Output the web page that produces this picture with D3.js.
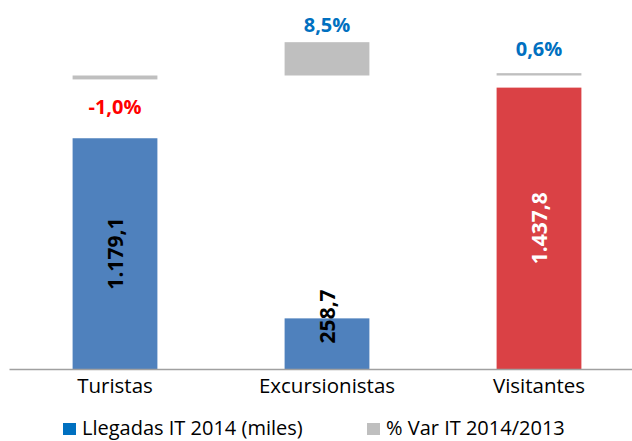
<!DOCTYPE html>
<html>
<head>
<meta charset="utf-8">
<script src="https://cdn.jsdelivr.net/npm/d3@7"></script>
<style>
  body { margin: 0; background: #fff; }
  text { font-family: "Open Sans", Lato, sans-serif; }
</style>
</head>
<body>
<div id="chart-area"></div>
<script>
const categories = ['Turistas', 'Excursionistas', 'Visitantes']
const llegadas = [1179.1, 258.7, 1437.8]
const varPct = [-1.0, 8.5, 0.6]
const legendLabels = ['Llegadas IT 2014 (miles)', '% Var IT 2014/2013']

const WIDTH = 632
const HEIGHT = 441
const BASE = 369

const fmtNum = (v) => {
    const s = v.toFixed(1).split('.')
    return s[0].replace(/\B(?=(\d{3})+(?!\d))/g, '.') + ',' + s[1]
}
const fmtPct = (v) => v.toFixed(1).replace('.', ',') + '%'

const svg = d3.select('#chart-area').append('svg')
        .attr('width', WIDTH)
        .attr('height', HEIGHT)

const x = d3.scaleBand()
          .domain(categories)
          .range([9, 645])
          .paddingInner(0.6)
          .paddingOuter(0.3)

const y = d3.scaleLinear()
          .domain([0, 1600])
          .range([BASE, BASE - 1600 * 0.1957])

const y2 = d3.scaleLinear()
          .domain([-2, 10])
          .range([75.5 + 2 * 3.92, 75.5 - 10 * 3.92])

const barColors = ['#4f81bd', '#4f81bd', '#da4145']
const barTextColors = ['#000', '#000', '#fff']

// secondary series (% var) floating bars
svg.selectAll('rect.pct')
    .data(varPct)
    .enter().append('rect')
    .attr('class', 'pct')
    .attr('x', (d, i) => x(categories[i]))
    .attr('width', x.bandwidth())
    .attr('y', d => Math.min(y2(d), y2(0)))
    .attr('height', d => Math.abs(y2(d) - y2(0)))
    .attr('fill', '#bfbfbf')

// main bars
svg.selectAll('rect.bar')
    .data(llegadas)
    .enter().append('rect')
    .attr('class', 'bar')
    .attr('x', (d, i) => x(categories[i]))
    .attr('width', x.bandwidth())
    .attr('y', d => y(d))
    .attr('height', d => BASE - y(d))
    .attr('fill', (d, i) => barColors[i])

// axis
const xAxisCall = d3.axisBottom(x).tickSize(0).tickPadding(24)
const xAxis = svg.append('g')
    .attr('transform', `translate(0, ${BASE})`)
    .call(xAxisCall)
xAxis.select('.domain').attr('stroke', '#a0a0a0').attr('stroke-width', 1.5)
xAxis.selectAll('text')
    .attr('font-size', 20.5)
    .attr('dy', 0)
    .attr('fill', '#000')
    .style('font-family', '"Open Sans", sans-serif')

// value labels inside bars (rotated)
svg.selectAll('text.val')
    .data(llegadas)
    .enter().append('text')
    .attr('class', 'val')
    .attr('transform', (d, i) => {
        const cx = x(categories[i]) + x.bandwidth() / 2
        const h = BASE - y(d)
        const cy = h > 70 ? y(d) + h / 2 : y(d) - 2
        return `translate(${cx}, ${cy}) rotate(-90)`
    })
    .attr('text-anchor', 'middle')
    .attr('dy', '0.36em')
    .attr('font-size', 21)
    .attr('font-weight', 'bold')
    .attr('fill', (d, i) => barTextColors[i])
    .text(d => fmtNum(d))

// percentage labels
const pctLabelDy = [20, 10, 17]
svg.selectAll('text.pct')
    .data(varPct)
    .enter().append('text')
    .attr('class', 'pct')
    .attr('x', (d, i) => x(categories[i]) + x.bandwidth() / 2)
    .attr('y', (d, i) => d < 0 ? y2(d) + pctLabelDy[i] + 15 : y2(d) - pctLabelDy[i])
    .attr('text-anchor', 'middle')
    .attr('font-size', 20)
    .attr('font-weight', 'bold')
    .attr('fill', d => d < 0 ? '#ff0000' : '#0070c0')
    .text(d => fmtPct(d))

// legend
const legendX = [63, 367]
const legendColors = ['#0070c0', '#bfbfbf']
const legend = svg.selectAll('g.legend')
    .data(legendLabels)
    .enter().append('g')
    .attr('class', 'legend')
    .attr('transform', (d, i) => `translate(${legendX[i]}, 423)`)
legend.append('rect')
    .attr('width', 13)
    .attr('height', 12)
    .attr('fill', (d, i) => legendColors[i])
legend.append('text')
    .attr('x', 19)
    .attr('y', 11.5)
    .attr('font-size', 20)
    .attr('fill', '#000')
    .text(d => d)
</script>
</body>
</html>
